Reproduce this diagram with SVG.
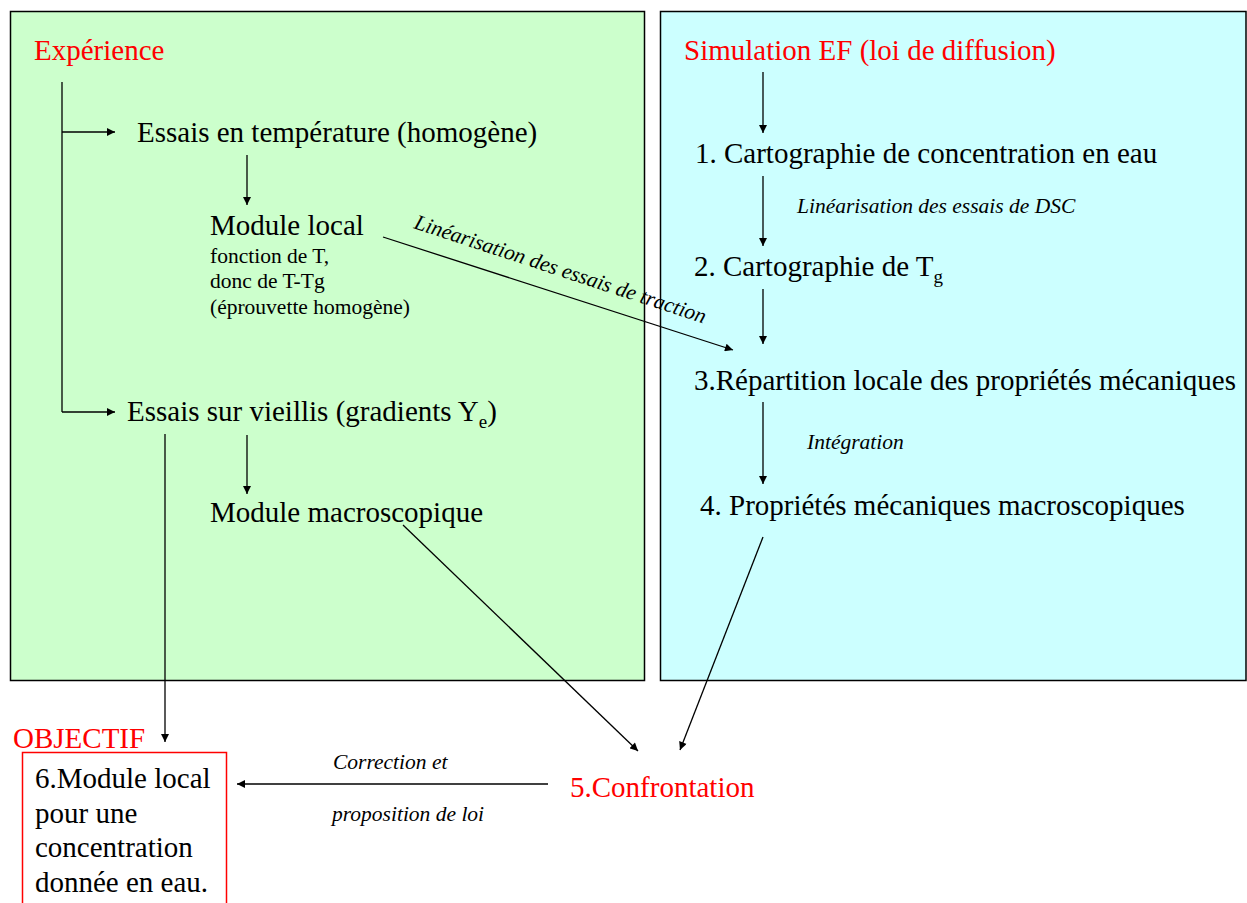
<svg xmlns="http://www.w3.org/2000/svg" width="1247" height="903" viewBox="0 0 1247 903" font-family="'Liberation Serif', serif">
<defs>
<marker id="ah" viewBox="0 0 10 10" refX="10" refY="5" markerWidth="9" markerHeight="8" markerUnits="userSpaceOnUse" orient="auto">
<path d="M0,0 L10,5 L0,10 z" fill="#000"/>
</marker>
<style>
text{font-family:'Liberation Serif',serif;fill:#000}
.m{font-size:29px}
.s{font-size:21.5px}
.i{font-size:21.5px;font-style:italic}
.r{fill:#ff0000}
.sub{font-size:19px}
.c line{stroke:#000;stroke-width:1.3;fill:none}
.a{marker-end:url(#ah)}
</style>
</defs>
<rect width="1247" height="903" fill="#fff"/>
<g id="panel-experience">
<rect x="10.5" y="11.5" width="634" height="669" fill="#ccffcc" stroke="#000" stroke-width="1.5"/>
<text class="m r" x="34" y="60">Expérience</text>
</g>
<g id="panel-simulation">
<rect x="660.5" y="11.5" width="585.5" height="669" fill="#ccffff" stroke="#000" stroke-width="1.5"/>
<text class="m r" x="684" y="60">Simulation EF (loi de diffusion)</text>
</g>
<g id="n-essais-temp"><text class="m" x="137" y="142">Essais en température (homogène)</text></g>
<g id="n-module-local">
<text class="m" x="210" y="235">Module local</text>
<text class="s" x="210" y="263">fonction de T,</text>
<text class="s" x="210" y="288">donc de T-Tg</text>
<text class="s" x="210" y="314">(éprouvette homogène)</text>
</g>
<g id="n-essais-vieillis"><text class="m" x="127" y="421">Essais sur vieillis (gradients Y<tspan class="sub" dy="7">e</tspan><tspan dy="-7">)</tspan></text></g>
<g id="n-module-macro"><text class="m" x="210" y="522">Module macroscopique</text></g>
<g id="n-1"><text class="m" x="695" y="163">1. Cartographie de concentration en eau</text></g>
<g id="n-2"><text class="m" x="694" y="276">2. Cartographie de T<tspan class="sub" dy="7">g</tspan></text></g>
<g id="n-3"><text class="m" x="694" y="390">3.Répartition locale des propriétés mécaniques</text></g>
<g id="n-4"><text class="m" x="700" y="515">4. Propriétés mécaniques macroscopiques</text></g>
<g id="n-5"><text class="m r" x="570" y="797">5.Confrontation</text></g>
<g id="n-6">
<text class="m r" x="13" y="748">OBJECTIF</text>
<rect x="22.5" y="752.5" width="204" height="170" fill="none" stroke="#ff0000" stroke-width="1.5"/>
<text class="m" x="35" y="788">6.Module local</text>
<text class="m" x="35" y="823">pour une</text>
<text class="m" x="35" y="857">concentration</text>
<text class="m" x="35" y="892">donnée en eau.</text>
</g>
<g id="connectors" class="c">
<line x1="62" y1="82" x2="62" y2="412"/>
<line class="a" x1="62" y1="132" x2="115" y2="132"/>
<line class="a" x1="62" y1="412" x2="115" y2="412"/>
<line class="a" x1="247" y1="155" x2="247" y2="205"/>
<line class="a" x1="247" y1="435" x2="247" y2="494"/>
<line class="a" x1="165" y1="434" x2="165" y2="742"/>
<line class="a" x1="383" y1="237" x2="733" y2="350"/>
<line class="a" x1="403" y1="525" x2="638" y2="751"/>
<line class="a" x1="763" y1="72" x2="763" y2="133"/>
<line class="a" x1="763" y1="176" x2="763" y2="246"/>
<line class="a" x1="763" y1="289" x2="763" y2="344"/>
<line class="a" x1="763" y1="402" x2="763" y2="484"/>
<line class="a" x1="763" y1="537" x2="680" y2="750"/>
<line class="a" x1="548" y1="784" x2="237" y2="784"/>
</g>
<g id="labels">
<text class="i" transform="translate(413,228) rotate(18.2)">Linéarisation des essais de traction</text>
<text class="i" x="797" y="213">Linéarisation des essais de DSC</text>
<text class="i" x="807" y="449">Intégration</text>
<text class="i" x="333" y="769">Correction et</text>
<text class="i" x="332" y="821">proposition de loi</text>
</g>
</svg>
